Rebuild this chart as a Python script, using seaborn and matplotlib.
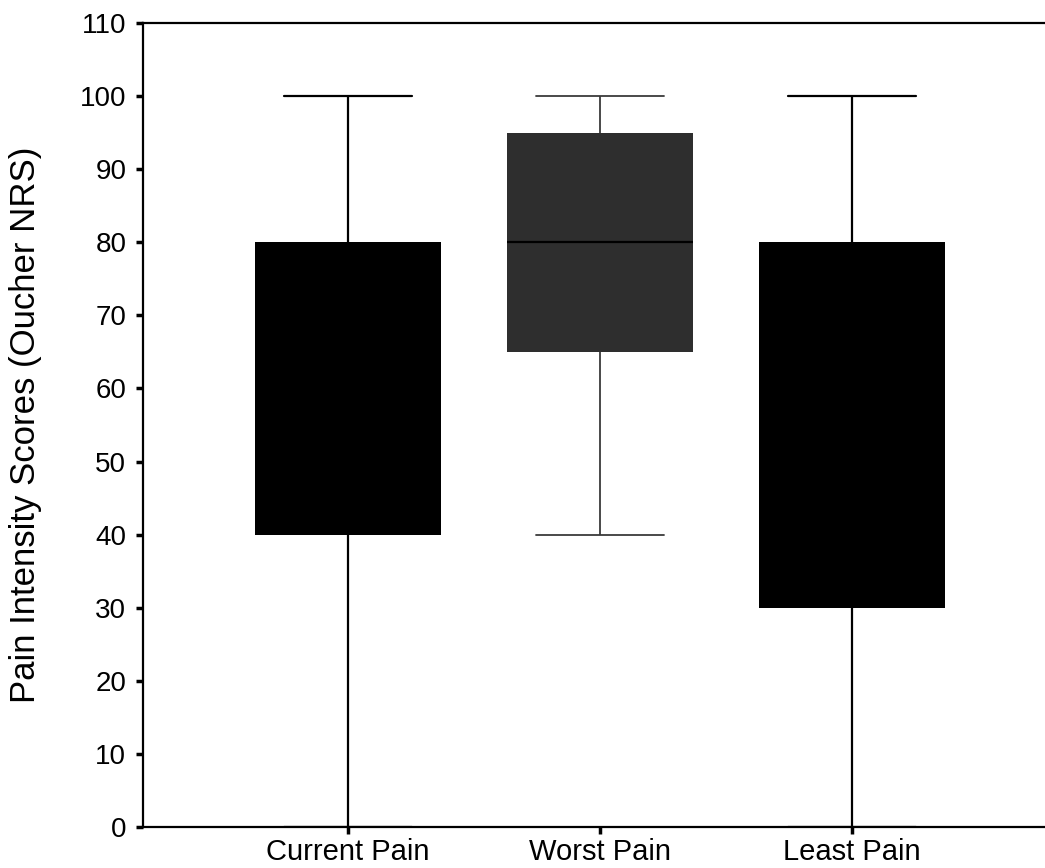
import numpy as np
import pandas as pd
import matplotlib
matplotlib.use("Agg")
import matplotlib.pyplot as plt
import seaborn as sns

categories = ["Current Pain", "Worst Pain", "Least Pain"]
mins = [0, 40, 0]
q1s = [40, 65, 30]
medians = [60, 80, 55]
q3s = [80, 95, 80]
maxs = [100, 100, 100]
box_colors = ["#000000", "#2e2e2e", "#000000"]
line_colors = ["#000000", "#3a3a3a", "#000000"]
y_ticks = list(range(0, 111, 10))

rows = []
for c, a, b, m, d, e in zip(categories, mins, q1s, medians, q3s, maxs):
    for v in (a, b, m, d, e):
        rows.append({"cat": c, "score": v})
df = pd.DataFrame(rows)

sns.set_style("white")
plt.rcParams['font.family'] = ['Liberation Sans', 'DejaVu Sans']
plt.rcParams['text.color'] = 'black'
plt.rcParams['xtick.color'] = 'black'
plt.rcParams['ytick.color'] = 'black'
plt.rcParams['axes.labelcolor'] = 'black'

fig = plt.figure(figsize=(10.45, 8.68), dpi=100)
ax = fig.add_axes([0.1368, 0.0472, 1.0 - 0.1368, 0.9735 - 0.0472])

sns.boxplot(data=df, x="cat", y="score", order=categories, hue="cat",
            hue_order=categories, palette=box_colors, legend=False,
            whis=(0, 100), width=0.74, ax=ax, linewidth=1.6, linecolor="black",
            showfliers=False, capwidths=0.51,
            medianprops=dict(color="black", linewidth=1.6),
            whiskerprops=dict(color="black", linewidth=1.6),
            capprops=dict(color="black", linewidth=1.6),
            boxprops=dict(edgecolor="none"))

# lighter, thinner whiskers for the grey box
for ln in ax.lines:
    xd = np.asarray(ln.get_xdata(), dtype=float)
    if xd.size and abs(xd.mean() - 1) < 0.4:
        yd = np.asarray(ln.get_ydata(), dtype=float)
        if not np.allclose(yd, medians[1]):
            ln.set_color(line_colors[1])
            ln.set_linewidth(1.3)

ax.set_xlim(-0.813, 2.766)
ax.set_ylim(0, 110)
ax.set_yticks(y_ticks)
ax.set_yticklabels([str(t) for t in y_ticks], fontsize=20)
ax.set_xticks(range(len(categories)))
ax.set_xticklabels(categories, fontsize=21)
ax.set_xlabel("")
ax.set_ylabel("Pain Intensity Scores (Oucher NRS)", fontsize=25, labelpad=27)

for s in ["left", "bottom", "top"]:
    ax.spines[s].set_visible(True)
    ax.spines[s].set_color("black")
    ax.spines[s].set_linewidth(1.6)
ax.spines["right"].set_visible(False)
ax.tick_params(axis="both", direction="out", length=5, width=2.5, color="black",
               labelcolor="black", left=True, bottom=True, pad=7)
ax.tick_params(axis="x", pad=3)

fig.savefig("out.png", dpi=100)
